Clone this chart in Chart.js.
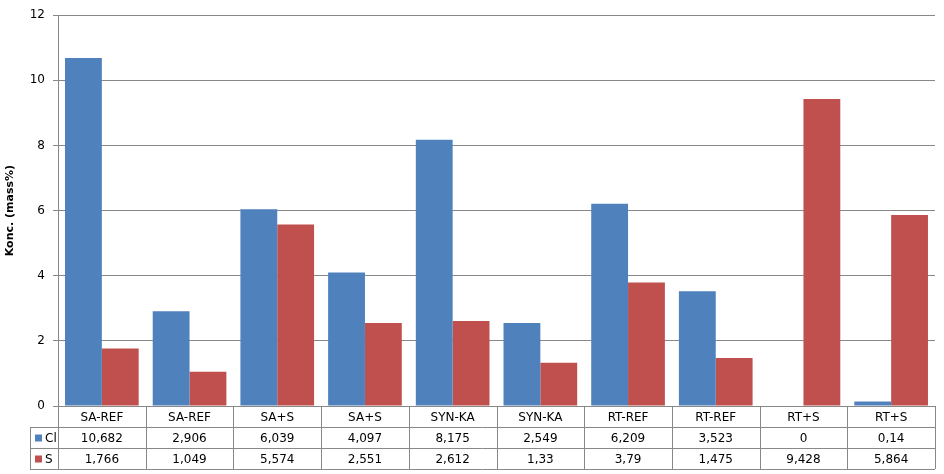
<!DOCTYPE html>
<html><head><meta charset="utf-8">
<script src="https://cdn.jsdelivr.net/npm/chart.js@4"></script>
<style>html,body{margin:0;padding:0;background:#fff}</style>
</head><body>
<canvas id="c" width="944" height="474" style="width:944px;height:474px"></canvas>
<script>
const categories = ["SA-REF","SA-REF","SA+S","SA+S","SYN-KA","SYN-KA","RT-REF","RT-REF","RT+S","RT+S"];
const clValues = [10.682,2.906,6.039,4.097,8.175,2.549,6.209,3.523,0,0.14];
const sValues = [1.766,1.049,5.574,2.551,2.612,1.33,3.79,1.475,9.428,5.864];
const seriesNames = ["Cl","S"];
const colors = ["#4F81BD","#C0504D"];
const fmt = v => String(v).replace('.', ',');

const tablePlugin = {
  id: 'table',
  afterDraw(chart) {
    const ctx = chart.ctx, ca = chart.chartArea, x = chart.scales.x;
    const rowH = 21, top = ca.bottom, legL = 30;
    const n = categories.length, w = (ca.right - ca.left) / n;
    ctx.save();
    ctx.strokeStyle = '#888'; ctx.lineWidth = 1;
    ctx.beginPath();
    // horizontal lines
    for (let r = 1; r <= 3; r++) {
      const y = Math.round(top + r * rowH) + 0.5;
      ctx.moveTo(legL, y); ctx.lineTo(ca.right, y);
    }
    // vertical lines
    for (let i = 0; i <= n; i++) {
      const xx = Math.round(ca.left + i * w) + 0.5;
      ctx.moveTo(xx, top); ctx.lineTo(xx, top + 3 * rowH);
    }
    ctx.moveTo(legL + 0.5, top + rowH); ctx.lineTo(legL + 0.5, top + 3 * rowH);
    ctx.stroke();
    ctx.fillStyle = '#000';
    ctx.font = '12px "DejaVu Sans", sans-serif';
    ctx.textAlign = 'center'; ctx.textBaseline = 'middle';
    const rows = [clValues, sValues];
    categories.forEach((c, i) => {
      const cx = x.getPixelForValue(i);
      ctx.fillText(c, cx, top + rowH / 2 + 1);
      rows.forEach((r, k) => ctx.fillText(fmt(r[i]), cx, top + rowH * (k + 1.5) + 1));
    });
    ctx.textAlign = 'left';
    seriesNames.forEach((s, k) => {
      const cy = top + rowH * (k + 1.5);
      ctx.fillStyle = colors[k];
      ctx.fillRect(legL + 5, cy - 3, 7, 7);
      ctx.fillStyle = '#000';
      ctx.fillText(s, legL + 15, cy + 1);
    });
    ctx.restore();
  }
};

new Chart(document.getElementById('c'), {
  type: 'bar',
  data: {
    labels: categories,
    datasets: [
      { label: seriesNames[0], data: clValues, backgroundColor: colors[0] },
      { label: seriesNames[1], data: sValues, backgroundColor: colors[1] }
    ]
  },
  options: {
    responsive: false, animation: false,
    layout: { padding: { top: 12, right: 9, bottom: 68, left: 0 } },
    datasets: { bar: { categoryPercentage: 0.84, barPercentage: 1 } },
    plugins: { legend: { display: false }, tooltip: { enabled: false } },
    scales: {
      x: { display: false },
      y: {
        min: 0, max: 12,
        ticks: { stepSize: 2, color: '#000', font: { size: 12, family: '"DejaVu Sans", sans-serif' }, padding: 8 },
        grid: { color: '#888', tickLength: 5 },
        border: { color: '#888' },
        title: { display: true, text: 'Konc. (mass%)', color: '#000', font: { size: 11, weight: 'bold', family: '"DejaVu Sans", sans-serif' } },
        afterFit(s) { s.width = 58; }
      }
    }
  },
  plugins: [tablePlugin]
});
</script>
</body></html>
